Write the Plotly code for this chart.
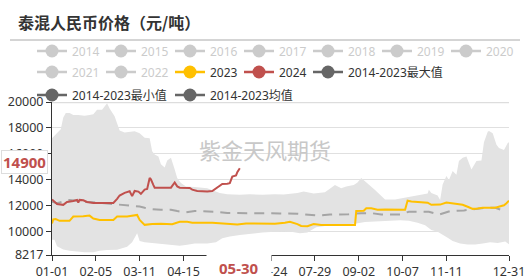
import pandas as pd
import plotly.graph_objects as go

# ---------------- data ----------------
categories = pd.date_range("2024-01-01", "2024-12-31", freq="D").strftime("%m-%d").tolist()

tick_vals = ["01-01", "02-05", "03-11", "04-15", "05-20", "06-24", "07-29", "09-02", "10-07", "11-11", "12-31"]
tick_text = ["01-01", "02-05", "03-11", "04-15", "", "06-24", "07-29", "09-02", "10-07", "11-11", "12-31"]
y_ticks = [8217, 10000, 12000, 14000, 16000, 18000, 20000]
y_tick_text = ["8217", "10000", "12000", "14000", "16000", "18000", "20000"]

latest_date = "05-30"
latest_value = 14900

hidden_years = ["2014", "2015", "2016", "2017", "2018", "2019", "2020", "2021", "2022"]

max_pts = [("01-01", 17200), ("01-05", 17600), ("01-08", 17900), ("01-10", 18800), ("01-12", 19150),
           ("01-15", 19150), ("01-18", 19000), ("01-22", 19000), ("01-27", 18950), ("01-31", 19000),
           ("02-03", 19050), ("02-06", 19400), ("02-10", 19400), ("02-14", 19900), ("02-16", 19500),
           ("02-20", 18900), ("02-22", 18400), ("02-24", 17800), ("02-28", 17650), ("03-03", 17700),
           ("03-07", 17750), ("03-11", 17600), ("03-15", 17250), ("03-19", 17200), ("03-21", 16200),
           ("03-23", 15950), ("03-26", 15800), ("03-28", 15200), ("03-31", 14950), ("04-02", 15500),
           ("04-05", 15700), ("04-08", 14800), ("04-10", 14150), ("04-13", 13770), ("04-17", 13500),
           ("04-24", 13450), ("04-28", 13400), ("05-04", 13350), ("05-08", 13200), ("05-14", 13000),
           ("05-20", 12900), ("05-30", 12850), ("06-07", 12900), ("06-17", 12850), ("06-27", 12900),
           ("07-04", 12870), ("07-15", 13000), ("07-20", 13100), ("07-28", 12950), ("08-06", 13050),
           ("08-11", 13390), ("08-14", 13600), ("08-19", 13350), ("08-23", 13500), ("08-29", 13600),
           ("09-01", 13800), ("09-04", 14150), ("09-07", 13900), ("09-09", 13770), ("09-12", 13500),
           ("09-15", 13230), ("09-19", 12850), ("09-23", 12500), ("10-01", 12500), ("10-09", 12650),
           ("10-14", 12700), ("10-22", 12900), ("10-27", 12950), ("10-28", 13250), ("10-30", 13000),
           ("11-04", 12800), ("11-06", 12450), ("11-08", 13640), ("11-11", 14300), ("11-13", 14000),
           ("11-16", 14690), ("11-19", 14400), ("11-21", 15460), ("11-24", 15700), ("11-27", 15800),
           ("12-01", 14800), ("12-05", 15460), ("12-09", 15500), ("12-11", 16900), ("12-14", 17700),
           ("12-15", 17770), ("12-18", 17600), ("12-21", 16700), ("12-23", 16450), ("12-27", 16300),
           ("12-30", 16850), ("12-31", 16900)]

min_pts = [("01-01", 9400), ("01-03", 9400), ("01-05", 8900), ("01-10", 8650), ("01-15", 8550),
           ("01-21", 8500), ("01-27", 8420), ("02-03", 8420), ("02-08", 8550), ("02-14", 8600),
           ("02-22", 8620), ("03-01", 8850), ("03-05", 9200), ("03-09", 9900), ("03-11", 9300),
           ("03-15", 9200), ("03-21", 9150), ("03-28", 9050), ("04-05", 9000), ("04-12", 8920),
           ("04-18", 9000), ("04-24", 9100), ("05-04", 9100), ("05-11", 9200), ("05-16", 9500),
           ("05-22", 9650), ("05-30", 9750), ("06-07", 9850), ("06-17", 9950), ("06-27", 10000),
           ("07-04", 10050), ("07-10", 10000), ("07-17", 9900), ("07-23", 9950), ("07-30", 10350),
           ("08-06", 10450), ("08-14", 10500), ("08-23", 10550), ("08-31", 10650), ("09-07", 10750),
           ("09-15", 10800), ("09-23", 10850), ("10-05", 10900), ("10-12", 10850), ("10-19", 10700),
           ("10-25", 10500), ("10-30", 10150), ("11-04", 10000), ("11-08", 9800), ("11-12", 9550),
           ("11-16", 9300), ("11-22", 9100), ("11-28", 9030), ("12-04", 9030), ("12-10", 9100),
           ("12-16", 9200), ("12-22", 9150), ("12-28", 9250), ("12-31", 9050)]

mean_pts = [("01-01", 12330), ("01-05", 12200), ("01-10", 12350), ("01-15", 12450), ("01-21", 12400),
            ("01-27", 12300), ("02-03", 12280), ("02-12", 12200), ("02-19", 12150), ("02-26", 12100),
            ("03-05", 12000), ("03-11", 11950), ("03-15", 11850), ("03-21", 11750), ("03-28", 11700),
            ("04-05", 11700), ("04-10", 11600), ("04-17", 11500), ("04-24", 11600), ("05-04", 11600),
            ("05-11", 11550), ("05-20", 11450), ("05-30", 11430), ("06-10", 11420), ("06-20", 11440),
            ("07-01", 11420), ("07-15", 11400), ("07-31", 11260), ("08-10", 11330), ("08-25", 11360),
            ("09-04", 11440), ("09-12", 11440), ("09-20", 11340), ("10-05", 11340), ("10-12", 11550),
            ("10-20", 11550), ("10-28", 11550), ("11-05", 11330), ("11-14", 11600), ("11-25", 11650),
            ("12-05", 11750), ("12-12", 11850), ("12-20", 11850), ("12-24", 11720), ("12-28", 11700)]

y2023_pts = [("01-01", 10650), ("01-02", 10950), ("01-04", 10980), ("01-07", 10850), ("01-15", 10850),
             ("01-18", 11180), ("01-26", 11200), ("01-29", 11260), ("01-31", 11250), ("02-03", 11030),
             ("02-08", 10920), ("02-19", 10920), ("02-22", 11180), ("03-01", 11180), ("03-05", 11250),
             ("03-09", 11300), ("03-11", 10920), ("03-13", 10700), ("03-15", 10540), ("03-21", 10600),
             ("03-28", 10620), ("04-06", 10580), ("04-12", 10770), ("04-18", 10770), ("04-22", 10700),
             ("05-08", 10700), ("05-14", 10650), ("05-19", 10600), ("05-24", 10540), ("05-28", 10560),
             ("06-04", 10650), ("06-11", 10650), ("06-19", 10660), ("06-27", 10620), ("07-05", 10700),
             ("07-09", 10770), ("07-15", 10600), ("07-18", 10450), ("07-23", 10440), ("07-28", 10600),
             ("08-03", 10520), ("08-14", 10520), ("08-30", 10520), ("08-31", 11600), ("09-06", 11620),
             ("09-08", 11820), ("09-12", 11820), ("09-17", 11700), ("09-23", 11720), ("10-09", 11700),
             ("10-11", 12400), ("10-14", 12330), ("10-22", 12300), ("10-27", 12250), ("10-30", 12080),
             ("11-06", 12100), ("11-11", 12250), ("11-16", 12200), ("11-20", 12150), ("11-24", 12080),
             ("11-28", 11930), ("12-02", 11770), ("12-06", 11800), ("12-10", 11850), ("12-20", 11850),
             ("12-23", 11950), ("12-27", 12050), ("12-29", 12200), ("12-31", 12400)]

y2024_pts = [("01-01", 12490), ("01-03", 12300), ("01-05", 12150), ("01-10", 12080), ("01-13", 12300),
             ("01-18", 12380), ("01-21", 12460), ("01-22", 12250), ("01-23", 12460), ("01-26", 12430),
             ("01-29", 12300), ("02-03", 12230), ("02-12", 12230), ("02-19", 12230), ("02-22", 12540),
             ("02-24", 12800), ("02-28", 13000), ("03-03", 13130), ("03-05", 12750), ("03-07", 13150),
             ("03-10", 13100), ("03-12", 12930), ("03-15", 13250), ("03-17", 13300), ("03-19", 14150),
             ("03-20", 14050), ("03-22", 13600), ("03-23", 13400), ("04-05", 13400), ("04-08", 13800),
             ("04-10", 13500), ("04-12", 13400), ("04-20", 13380), ("04-22", 13250), ("04-26", 13150),
             ("05-04", 13100), ("05-08", 13150), ("05-11", 13380), ("05-14", 13600), ("05-16", 13690),
             ("05-20", 13700), ("05-22", 13750), ("05-24", 14260), ("05-27", 14350), ("05-28", 14600),
             ("05-30", 14900)]

# ---------------- styles ----------------
C2023 = "#FFC000"
C2024 = "#C0504D"
CSTAT = "#666666"
CBAND = "#e3e3e3"
CMEAN = "#a5a5a5"
CHIDDEN = "#999999"

FONT = "Noto Sans, Noto Sans CJK SC, sans-serif"

def xs(pts):
    return [p[0] for p in pts]

def ys(pts):
    return [p[1] for p in pts]

fig = go.Figure()

# band (min -> max)
fig.add_trace(go.Scatter(x=xs(min_pts), y=ys(min_pts), mode="lines",
                         line=dict(width=0, color=CBAND), showlegend=False, hoverinfo="skip"))
fig.add_trace(go.Scatter(x=xs(max_pts), y=ys(max_pts), mode="lines", fill="tonexty",
                         fillcolor=CBAND, line=dict(width=0, color=CBAND),
                         showlegend=False, hoverinfo="skip"))
# mean
fig.add_trace(go.Scatter(x=xs(mean_pts), y=ys(mean_pts), mode="lines",
                         line=dict(color=CMEAN, width=2, dash="10px,7px"), showlegend=False))
# 2023
fig.add_trace(go.Scatter(x=xs(y2023_pts), y=ys(y2023_pts), mode="lines",
                         line=dict(color=C2023, width=2), showlegend=False))
# 2024
fig.add_trace(go.Scatter(x=xs(y2024_pts), y=ys(y2024_pts), mode="lines",
                         line=dict(color=C2024, width=2), showlegend=False))

# legend entries
def legend_item(name, color, legend, width, visible=True):
    fig.add_trace(go.Scatter(x=[None], y=[None], mode="lines+markers", name=name,
                             line=dict(color=color, width=2.5),
                             marker=dict(color=color, size=13),
                             legend=legend, legendwidth=width, visible=visible,
                             hoverinfo="skip"))

for yr in hidden_years[:7]:
    legend_item(f'<span style="color:{CHIDDEN}">{yr}</span>', CHIDDEN, "legend", 24, "legendonly")
for yr in hidden_years[7:]:
    legend_item(f'<span style="color:{CHIDDEN}">{yr}</span>', CHIDDEN, "legend2", 24, "legendonly")
legend_item("2023", C2023, "legend2", 24)
legend_item("2024", C2024, "legend2", 24)
legend_item("2014-2023最大值", CSTAT, "legend2", 100)
legend_item("2014-2023最小值", CSTAT, "legend3", 93)
legend_item("2014-2023均值", CSTAT, "legend3", 100)

L, R, T, B = 52, 21, 102, 25
W, H = 530, 280
PW, PH = W - L - R, H - T - B

def px_x(px):
    return (px - L) / PW

def px_y(py):
    return (H - B - py) / PH

leg_common = dict(orientation="h", xanchor="left", yanchor="middle", traceorder="normal",
                  bgcolor="rgba(0,0,0,0)", itemwidth=30, itemclick=False,
                  itemdoubleclick=False, font=dict(size=12, color="#333"))

fig.update_layout(
    width=W, height=H,
    margin=dict(l=L, r=R, t=T, b=B, autoexpand=False),
    paper_bgcolor="white", plot_bgcolor="white",
    font=dict(family=FONT, size=12, color="#333"),
    title=dict(text="<b>泰混人民币价格（元/吨）</b>", xref="container", yref="container",
               x=18 / W, y=1 - 23 / H, xanchor="left", yanchor="middle",
               font=dict(family="Noto Sans CJK SC, sans-serif", size=16, color="#333")),
    legend=dict(x=px_x(32), y=px_y(51), **leg_common),
    legend2=dict(x=px_x(32), y=px_y(72), **leg_common),
    legend3=dict(x=px_x(32), y=px_y(95), **leg_common),
    xaxis=dict(type="category", categoryorder="array", categoryarray=categories,
               range=[0, len(categories) - 1], tickmode="array", tickvals=tick_vals,
               ticktext=tick_text, ticks="outside", ticklen=5, tickcolor="#333",
               showline=True, linecolor="#333", linewidth=1, showgrid=False,
               zeroline=False, tickfont=dict(size=12.5, color="#333"), fixedrange=True),
    yaxis=dict(range=[y_ticks[0], y_ticks[-1]], tickmode="array", tickvals=y_ticks,
               ticktext=y_tick_text,
               ticks="outside", ticklen=5, tickcolor="#333", showline=True,
               linecolor="#333", linewidth=1, showgrid=True, gridcolor="#e0e0e0",
               zeroline=False, tickfont=dict(size=12.5, color="#333"), fixedrange=True),
    shapes=[
        dict(type="line", xref="paper", yref="paper", x0=px_x(10), x1=px_x(520),
             y0=px_y(40), y1=px_y(40), line=dict(color="#aaaaaa", width=1)),
        dict(type="line", xref="paper", yref="y", x0=0, x1=1, y0=y_ticks[-1], y1=y_ticks[-1],
             line=dict(color="#dddddd", width=2.5), layer="below"),
    ],
    annotations=[
        dict(text="紫金天风期货", xref="paper", yref="paper", x=px_x(265), y=px_y(131),
             showarrow=False, font=dict(family="Noto Sans CJK SC, sans-serif", size=22,
                                        color="#c8c8c8")),
        dict(text=f"<b>{latest_date}</b>", xref="x", yref="paper", x=latest_date, y=px_y(268),
             xshift=-1, showarrow=False, xanchor="center", yanchor="middle", bgcolor="white",
             borderpad=12, font=dict(size=15, color=C2024)),
        dict(text=f"<b>{latest_value}</b>", xref="paper", yref="y", x=px_x(1),
             y=latest_value, yshift=6, xanchor="left", showarrow=False, bgcolor="white",
             bordercolor="#dddddd", borderwidth=1, borderpad=1,
             font=dict(size=15, color=C2024)),
    ],
    hovermode=False,
)

fig.write_html("out.html")
